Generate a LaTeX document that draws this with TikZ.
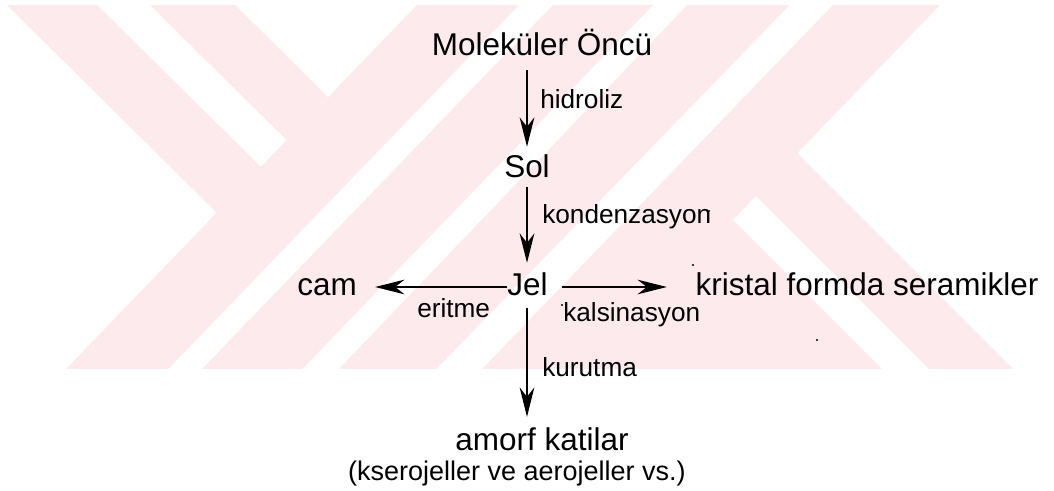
\documentclass[tikz,border=0pt]{standalone}
\usepackage{fontspec}
\setmainfont{Liberation Sans}
\usetikzlibrary{arrows.meta}
\definecolor{wm}{RGB}{252,234,237}
\newcommand{\mainfs}{\fontsize{23.6pt}{28pt}\selectfont}
\newcommand{\smallfs}{\fontsize{19.65pt}{23pt}\selectfont}
\newcommand{\notefs}{\fontsize{20.25pt}{24pt}\selectfont}
\begin{document}
\begin{tikzpicture}[x=0.75pt,y=-0.75pt,
  mainlbl/.style={font=\mainfs, inner sep=0pt, text height=17pt, text depth=5pt, anchor=base},
  smalllbl/.style={font=\smallfs, inner sep=0pt, anchor=base west},
  notelbl/.style={font=\notefs, inner sep=0pt, anchor=base},
  arr/.style={line width=1.2pt, -{Stealth[length=22pt,width=11pt,inset=7pt]}}
]
\useasboundingbox (0,0) rectangle (1054,490);
% watermark
\begin{scope}
\clip (0,5) rectangle (1054,368);
\fill[wm] (441.1,-20) -- (543.1,-20) -- (147.9,390) -- (45.9,390) -- cycle;
\fill[wm] (577.1,-20) -- (677.1,-20) -- (281.9,390) -- (181.9,390) -- cycle;
\fill[wm] (711.1,-20) -- (814.1,-20) -- (415.9,390) -- (318.9,390) -- cycle;
\fill[wm] (857.1,-20) -- (964.1,-20) -- (568.9,390) -- (461.9,390) -- cycle;
\fill[wm] (-18.3,-20) -- (71.8,-20) -- (261,167) -- (217,213) -- cycle;
\fill[wm] (124.8,-20) -- (209.8,-20) -- (328,97) -- (286.6,140) -- cycle;
\fill[wm] (797,153) -- (1034,390) -- (950,390) -- (755.9,195.9) -- cycle;
\fill[wm] (732.9,219.9) -- (903,390) -- (560,390) -- cycle;
\end{scope}
% specks
\fill (693,265) circle (1.2);
\fill (562,305) circle (1.2);
\fill (817,340) circle (1.2);
\fill (709,211) circle (1);
% nodes
\node[mainlbl] (mol) at (542,55) {Moleküler Öncü};
\node[mainlbl] (sol) at (527,177) {Sol};
\node[mainlbl] (jel) at (527.5,295) {Jel};
\node[mainlbl] (cam) at (327,295) {cam};
\node[mainlbl] (krist) at (867,295) {kristal formda seramikler};
\node[mainlbl] (amorf) at (542,450) {amorf katilar};
\node[notelbl] (kser) at (517,480) {(kserojeller ve aerojeller vs.)};
\node[smalllbl] (hid) at (540,108) {hidroliz};
\node[smalllbl] (kon) at (542,223) {kondenzasyon};
\node[smalllbl] (eri) at (417,317) {eritme};
\node[smalllbl] (kal) at (563,321) {kalsinasyon};
\node[smalllbl] (kur) at (542,376) {kurutma};
% connectors
\draw[arr, shorten <=6.2pt, shorten >=5.5pt] (mol.south -| sol) -- (sol.north);
\draw[arr, shorten <=2.5pt, shorten >=7pt] (sol.south) -- (jel.north -| sol.south);
\draw[arr, shorten <=4.7pt, shorten >=7.7pt] (jel.south -| sol.south) -- (amorf.north -| sol.south);
\draw[arr, shorten >=13.6pt] (jel.west) -- (cam.east);
\draw[arr, shorten <=10.8pt, shorten >=21.4pt] (jel.east) -- (krist.west);
\end{tikzpicture}
\end{document}
